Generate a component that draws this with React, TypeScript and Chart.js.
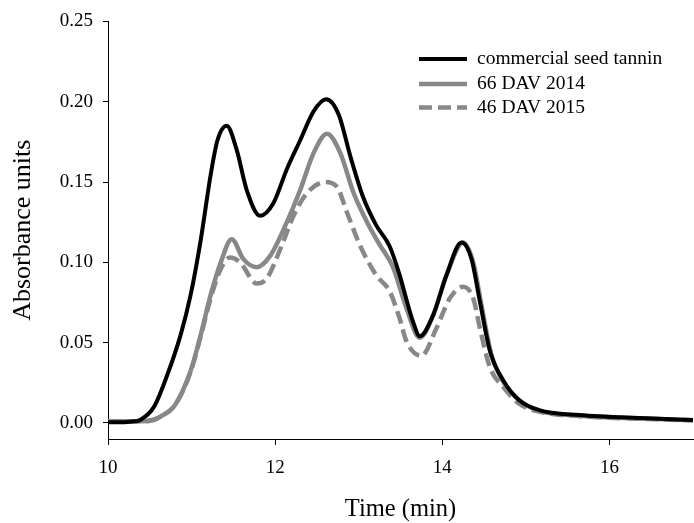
import React, { useEffect, useRef } from "react";
import { Chart, registerables } from "chart.js";

Chart.register(...registerables);

// ---- Data (Time in min, absorbance units) ----
const seriesLabels = ["commercial seed tannin", "66 DAV 2014", "46 DAV 2015"];

const commercialX = [10.0, 10.2, 10.32, 10.39, 10.55, 10.71, 10.87, 10.99, 11.11, 11.23, 11.31, 11.42, 11.54, 11.66, 11.82, 11.98, 12.14, 12.3, 12.46, 12.61, 12.76, 12.9, 13.05, 13.21, 13.37, 13.49, 13.57, 13.65, 13.73, 13.89, 14.05, 14.23, 14.35, 14.45, 14.57, 14.73, 14.92, 15.16, 15.64, 16.44, 17.0];
const commercialY = [0.0005, 0.0005, 0.001, 0.002, 0.01, 0.03, 0.055, 0.08, 0.114, 0.155, 0.176, 0.185, 0.17, 0.145, 0.129, 0.137, 0.158, 0.176, 0.194, 0.2015, 0.192, 0.166, 0.141, 0.123, 0.11, 0.092, 0.077, 0.063, 0.054, 0.067, 0.092, 0.1124, 0.102, 0.0756, 0.0448, 0.0264, 0.0141, 0.008, 0.0049, 0.0029, 0.0018];

const dav2014X = [10.0, 10.4, 10.55, 10.63, 10.8, 10.99, 11.11, 11.23, 11.35, 11.48, 11.62, 11.78, 11.94, 12.14, 12.3, 12.46, 12.62, 12.78, 12.94, 13.1, 13.25, 13.41, 13.57, 13.73, 13.89, 14.05, 14.25, 14.37, 14.47, 14.59, 14.75, 14.95, 15.16, 15.64, 16.44, 17.0];
const dav2014Y = [0.001, 0.001, 0.002, 0.004, 0.011, 0.0326, 0.055, 0.08, 0.1, 0.1144, 0.102, 0.097, 0.104, 0.125, 0.145, 0.168, 0.18, 0.168, 0.143, 0.125, 0.111, 0.097, 0.0716, 0.053, 0.067, 0.092, 0.1124, 0.1, 0.073, 0.042, 0.024, 0.013, 0.0075, 0.0045, 0.0027, 0.0017];

const dav2015X = [10.0, 10.4, 10.55, 10.63, 10.8, 10.99, 11.11, 11.23, 11.35, 11.46, 11.58, 11.78, 11.9, 12.06, 12.22, 12.38, 12.6, 12.74, 12.86, 13.02, 13.21, 13.37, 13.49, 13.57, 13.75, 13.93, 14.09, 14.25, 14.37, 14.45, 14.57, 14.73, 14.92, 15.16, 15.64, 16.44, 17.0];
const dav2015Y = [0.001, 0.001, 0.002, 0.004, 0.011, 0.032, 0.054, 0.078, 0.096, 0.103, 0.1, 0.0868, 0.09, 0.108, 0.129, 0.143, 0.15, 0.147, 0.131, 0.11, 0.092, 0.082, 0.065, 0.051, 0.0418, 0.059, 0.0776, 0.0848, 0.0776, 0.059, 0.0346, 0.0223, 0.012, 0.007, 0.0042, 0.0025, 0.0016];

const xTicks = [10, 12, 14, 16];
const yTicks = [0, 0.05, 0.1, 0.15, 0.2, 0.25];

const FONT = '"Liberation Serif", "Times New Roman", serif';

const toPoints = (xs: number[], ys: number[]) => xs.map((x, i) => ({ x, y: ys[i] }));

const legendPlugin = {
  id: "customLegend",
  afterDatasetsDraw(chart: any) {
    const ctx = chart.ctx;
    const { left, top } = chart.chartArea;
    const x0 = left + 311;
    const x1 = left + 359;
    const tx = left + 369;
    const rows = [37.5, 62.5, 86];
    ctx.save();
    chart.data.datasets.forEach((ds: any, i: number) => {
      const y = top + rows[i];
      ctx.beginPath();
      ctx.strokeStyle = ds.borderColor;
      ctx.lineWidth = ds.borderWidth;
      ctx.setLineDash(ds.borderDash || []);
      ctx.lineCap = "butt";
      ctx.moveTo(x0, y);
      ctx.lineTo(x1, y);
      ctx.stroke();
      ctx.setLineDash([]);
      ctx.fillStyle = "#000";
      ctx.font = `19.5px ${FONT}`;
      ctx.textBaseline = "middle";
      ctx.textAlign = "left";
      ctx.fillText(ds.label, tx, y);
    });
    ctx.restore();
  },
};

export default function App() {
  const canvasRef = useRef<HTMLCanvasElement | null>(null);

  useEffect(() => {
    if (!canvasRef.current) return;
    const chart = new Chart(canvasRef.current, {
      type: "line",
      data: {
        datasets: [
          {
            label: seriesLabels[0],
            data: toPoints(commercialX, commercialY),
            borderColor: "#000000",
            borderWidth: 4,
            pointRadius: 0,
            cubicInterpolationMode: "monotone",
            fill: false,
          },
          {
            label: seriesLabels[1],
            data: toPoints(dav2014X, dav2014Y),
            borderColor: "#888888",
            borderWidth: 4.5,
            pointRadius: 0,
            cubicInterpolationMode: "monotone",
            fill: false,
          },
          {
            label: seriesLabels[2],
            data: toPoints(dav2015X, dav2015Y),
            borderColor: "#888888",
            borderWidth: 4.5,
            borderDash: [13, 6],
            pointRadius: 0,
            cubicInterpolationMode: "monotone",
            fill: false,
          },
        ],
      },
      options: {
        animation: false,
        responsive: true,
        maintainAspectRatio: false,
        layout: { padding: { top: 16, right: 1, left: 0, bottom: 0 } },
        plugins: {
          legend: { display: false },
          tooltip: { enabled: false },
        },
        scales: {
          x: {
            type: "linear",
            min: 10,
            max: 17,
            afterFit: (s: any) => {
              s.height = 84;
            },
            afterBuildTicks: (s: any) => {
              s.ticks = xTicks.map((v) => ({ value: v }));
            },
            border: { display: true, color: "#000", width: 1 },
            grid: {
              display: true,
              drawOnChartArea: false,
              drawTicks: true,
              tickLength: 6,
              color: "#000",
              lineWidth: 1,
            },
            ticks: {
              color: "#000",
              padding: 12,
              maxRotation: 0,
              autoSkip: false,
              font: { family: FONT, size: 19 },
              callback: (v: any) => String(v),
            },
            title: {
              display: true,
              text: "Time (min)",
              color: "#000",
              font: { family: FONT, size: 24.5, lineHeight: 1 },
              padding: { top: 0, bottom: 1 },
            },
          },
          y: {
            type: "linear",
            min: -0.01,
            max: 0.25,
            afterFit: (s: any) => {
              s.width = 108;
            },
            afterBuildTicks: (s: any) => {
              s.ticks = yTicks.map((v) => ({ value: v }));
            },
            border: { display: true, color: "#000", width: 1 },
            grid: {
              display: true,
              drawOnChartArea: false,
              drawTicks: true,
              tickLength: 5,
              color: "#000",
              lineWidth: 1,
            },
            ticks: {
              color: "#000",
              padding: 10,
              autoSkip: false,
              font: { family: FONT, size: 19 },
              callback: (v: any) => Number(v).toFixed(2),
            },
            title: {
              display: true,
              text: "Absorbance units",
              color: "#000",
              font: { family: FONT, size: 26, lineHeight: 1 },
              padding: { top: 10, bottom: 0 },
            },
          },
        },
      },
      plugins: [legendPlugin],
    });
    return () => chart.destroy();
  }, []);

  return (
    <div style={{ position: "absolute", left: 0, top: 0, width: 694, height: 523, background: "#fff" }}>
      <canvas ref={canvasRef} />
    </div>
  );
}
